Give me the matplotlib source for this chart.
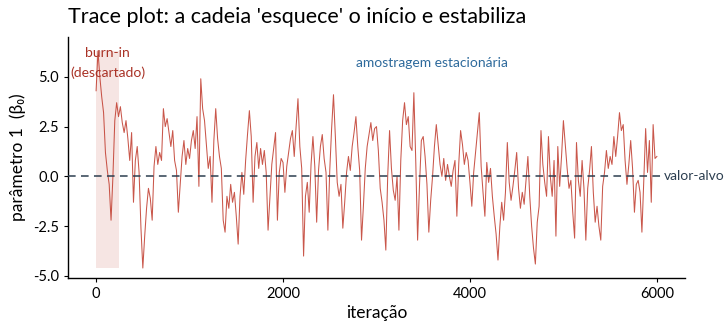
import numpy as np
import matplotlib
matplotlib.use("Agg")
import matplotlib.pyplot as plt
from matplotlib.patches import Rectangle

plt.rcParams["font.family"] = ["Lato", "DejaVu Sans"]

# beta0 trace, read every 20 iterations off the reference
beta0 = [
    # 0 - 980
    4.3, 6.3, 5.0, 4.0, 3.2, 1.2, 0.3, -0.4, -2.2, 0.0,
    2.8, 3.7, 3.0, 3.5, 2.7, 2.2, 2.8, 1.9, 0.8, 2.2,
    -1.3, 0.8, 1.5, 0.2, -2.6, -4.6, -3.0, -1.6, -0.6, -1.1,
    -2.2, 0.5, 1.5, 0.6, 1.2, 0.8, 3.4, 2.5, 2.9, 2.2,
    1.5, 2.3, 0.8, 0.3, -1.8, -0.4, 1.0, 1.8, 0.6, 1.4,
    # 1000 - 1980
    0.9, 1.8, 2.3, 1.4, 3.0, -0.5, 4.9, 3.4, 2.8, 1.6,
    0.4, 1.0, -1.3, 1.8, 3.4, 1.9, 1.0, 0.4, -2.2, -2.8,
    -1.0, -1.6, -0.4, -1.3, -0.8, -2.0, -3.4, -1.0, 0.2, -0.9,
    0.8, 2.1, 3.3, 2.0, -1.3, 1.0, 1.7, 0.4, 1.4, 0.6,
    1.3, 0.2, -2.7, -1.0, 0.6, 1.4, 2.2, -2.2, 0.2, 0.9,
    # 2000 - 2980
    0.7, -0.8, 0.5, 1.2, 1.9, 2.3, 1.0, 2.5, 3.9, 1.5,
    0.4, -4.0, -1.0, -0.3, -1.8, 0.6, 2.0, 0.5, -2.3, 0.3,
    1.5, 2.1, 0.9, 0.2, -2.7, 0.3, 2.4, 4.1, 2.0, -0.3,
    -1.0, -0.4, -2.6, -1.3, 0.2, 1.0, 0.3, 1.5, 2.2, 3.0,
    1.5, 0.3, -3.2, -1.5, 0.4, 1.5, 2.1, 2.7, 1.8, 2.4,
    # 3000 - 3980
    2.5, 1.3, -0.6, -1.3, -2.2, -3.7, 0.0, 2.3, 0.4, -0.7,
    -1.2, 0.0, -2.7, 0.8, 2.8, 3.7, 2.6, 3.0, 1.5, 1.3,
    4.2, 0.8, -3.2, -0.5, 1.8, 2.0, 1.0, -0.4, -2.8, -1.2,
    0.0, 1.5, 2.6, 1.6, 0.6, 0.0, 0.9, -0.2, 0.6, 0.0,
    -0.5, 0.3, 0.8, -2.0, 0.6, 2.3, 1.6, 0.6, 1.2, 0.8,
    # 4000 - 4980
    -0.3, -1.5, 0.2, 1.2, 2.2, 3.2, 0.5, -0.8, -2.0, 0.7,
    -0.3, 0.4, -1.0, -2.0, -2.9, -4.2, -2.5, -1.3, -2.2, -0.8,
    1.7, -0.3, -1.2, -0.5, 0.3, 1.2, -0.6, -1.6, -0.8, -1.4,
    -0.2, 1.0, -1.0, -2.5, -3.6, -4.4, -2.3, -1.5, 2.3, 0.6,
    -0.3, -1.0, 2.0, 0.0, -1.0, 0.8, -3.0, 1.5, -0.5, 1.0,
    # 5000 - 6000
    2.8, 1.6, 0.4, -0.6, -0.2, -1.8, -3.1, 1.7, -0.2, -1.0,
    0.8, -0.6, -3.2, -0.6, 0.3, 1.5, -0.8, -2.3, -1.5, -2.5,
    -3.2, -0.5, 0.2, 1.3, 0.4, 1.0, 0.6, 2.0, 1.0, 2.0,
    3.2, 2.3, 2.6, 0.8, -0.4, 0.6, 1.8, 0.4, -1.8, -0.4,
    -0.2, -0.8, -2.8, -0.2, 2.4, 0.2, 1.8, -1.3, 2.6, 0.9,
    1.0,
]
STEP = 20
iteracao = np.arange(len(beta0)) * STEP
BURN_IN = 250
TARGET = 0.0
x_ticks = [0, 2000, 4000, 6000]
y_ticks = [-5.0, -2.5, 0.0, 2.5, 5.0]

TRACE = "#c0392b"
BURN_TXT = "#a93226"
BLUE = "#2e6a9c"
NAVY = "#2c3e50"

fig = plt.figure(figsize=(7.24, 3.24), dpi=100)
ax = fig.add_axes([0.094, 0.142, 0.852, 0.744])

vals = np.array(beta0)
ax.add_patch(Rectangle((0, vals.min()), BURN_IN, vals.max() - vals.min(),
                       facecolor=TRACE, alpha=0.13, lw=0, zorder=1))
ax.plot(iteracao, vals, color=TRACE, lw=0.75, alpha=0.85, zorder=2)
ax.axhline(TARGET, color=NAVY, ls=(0, (5, 3.5)), lw=1.1, zorder=3)

ax.text(BURN_IN / 2, 6.2, "burn-in", color=BURN_TXT,
        ha="center", va="center", fontsize=10, zorder=4)
ax.text(BURN_IN / 2, 5.2, "(descartado)", color=BURN_TXT,
        ha="center", va="center", fontsize=10, zorder=4)
ax.text(3590, 5.7, "amostragem estacionária", color=BLUE,
        ha="center", va="center", fontsize=10)
ax.text(6070, TARGET, "valor-alvo", color=NAVY, ha="left", va="center",
        fontsize=10, clip_on=False,
        bbox=dict(facecolor="white", edgecolor="none", pad=0.5))

ax.set_xlim(-300, 6300)
ax.set_ylim(-5.1, 7.0)
ax.set_xticks(x_ticks)
ax.set_xticklabels([str(t) for t in x_ticks])
ax.set_yticks(y_ticks)
ax.set_yticklabels([f"{t:.1f}" for t in y_ticks])
ax.tick_params(labelsize=10.5, length=3, width=0.8, colors="black")
for s in ("top", "right"):
    ax.spines[s].set_visible(False)
for s in ("left", "bottom"):
    ax.spines[s].set_linewidth(1.0)

ax.set_xlabel("iteração", fontsize=12.5, labelpad=3)
ax.set_ylabel("parâmetro 1  (β₀)", fontsize=12.5, labelpad=5)
fig.text(0.094, 0.948, "Trace plot: a cadeia 'esquece' o início e estabiliza",
         fontsize=15.5, ha="left", va="center")

fig.savefig("out.png", dpi=100)
